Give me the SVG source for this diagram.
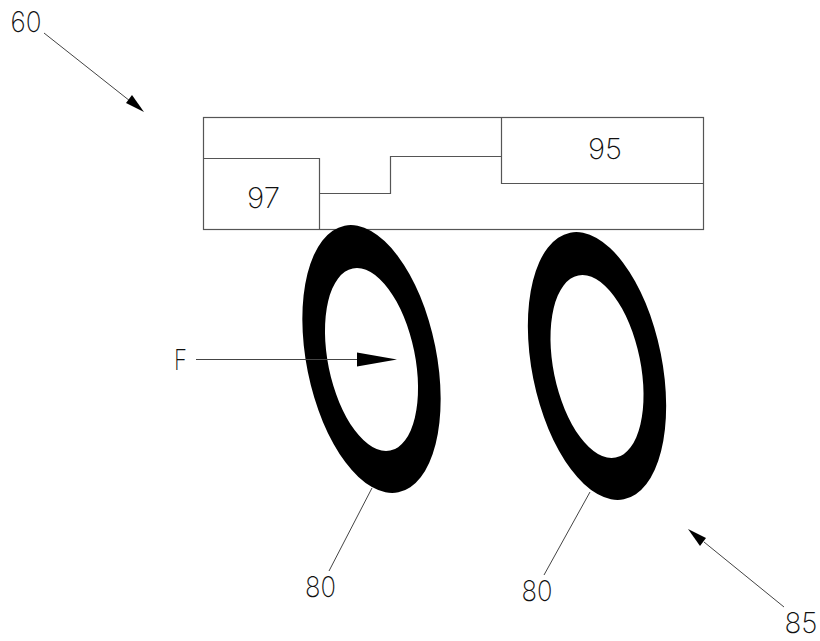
<svg xmlns="http://www.w3.org/2000/svg" width="820" height="641" viewBox="0 0 820 641">
<style>
.l{fill:none;stroke:#444;stroke-width:1}
.b{fill:none;stroke:#555;stroke-width:1.2}
.t{font-family:"Inter","Roboto","Liberation Sans",sans-serif;font-weight:200;font-size:28px;fill:#111;text-anchor:middle}
.h{fill:#000;stroke:none}
</style>
<rect width="820" height="641" fill="#fff"/>
<g id="housing">
<rect class="b" x="203.5" y="117.5" width="500" height="112"/>
</g>
<g id="node-97">
<path class="b" d="M203.500 158.500H319.500V229.500"/>
<text class="t" x="263.500" y="208" textLength="33" lengthAdjust="spacingAndGlyphs">97</text>
</g>
<g id="node-95">
<path class="b" d="M501.500 117.500V183.500H703.500"/>
<text class="t" x="605" y="159" textLength="34" lengthAdjust="spacingAndGlyphs">95</text>
</g>
<g id="ring-1">
<ellipse cx="371.500" cy="359" rx="65" ry="136" transform="rotate(-11.400 371.500 359)" fill="#000"/>
<ellipse cx="371.500" cy="359.500" rx="43.500" ry="93" transform="rotate(-11.600 371.500 359.500)" fill="#fff"/>
</g>
<g id="ring-2">
<ellipse cx="597" cy="366" rx="65" ry="136" transform="rotate(-11.400 597 366)" fill="#000"/>
<ellipse cx="597" cy="366.500" rx="43.500" ry="93" transform="rotate(-11.600 597 366.500)" fill="#fff"/>
</g>
<g id="connectors">
<path class="b" d="M319.500 193.500H390.500V156.500H501.500"/>
<path class="l" d="M44 33L130 101"/>
<polygon class="h" points="144,112 126,103 132,95"/>
<path class="l" d="M784 607L704 542"/>
<polygon class="h" points="688,529 706,538 700,546"/>
<path class="l" d="M196 359.500H360"/>
<polygon class="h" points="397,359.500 357,352.500 357,366.500"/>
<path class="l" d="M372 488L329 571"/>
<path class="l" d="M590 492L544 575"/>
</g>
<g id="labels">
<text class="t" x="26" y="32" textLength="31" lengthAdjust="spacingAndGlyphs">60</text>
<text class="t" x="180.500" y="370" textLength="13" lengthAdjust="spacingAndGlyphs">F</text>
<text class="t" x="320.500" y="597" textLength="31" lengthAdjust="spacingAndGlyphs">80</text>
<text class="t" x="537" y="601" textLength="31" lengthAdjust="spacingAndGlyphs">80</text>
<text class="t" x="801" y="633" textLength="33" lengthAdjust="spacingAndGlyphs">85</text>
</g>
</svg>
